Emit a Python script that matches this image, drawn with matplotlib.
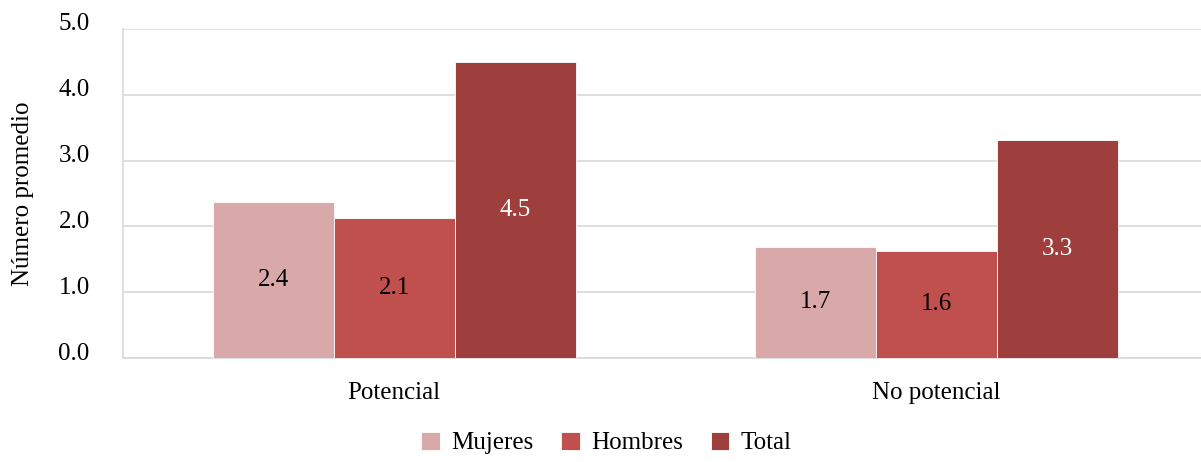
import matplotlib
matplotlib.use("Agg")
import matplotlib.pyplot as plt
import matplotlib.transforms as mtransforms
import numpy as np

plt.rcParams['font.family'] = ['Liberation Serif', 'DejaVu Serif']

categories = ["Potencial", "No potencial"]
series_names = ["Mujeres", "Hombres", "Total"]
mujeres = [2.37, 1.69]
hombres = [2.13, 1.63]
total = [4.50, 3.31]
labels_m = ["2.4", "1.7"]
labels_h = ["2.1", "1.6"]
labels_t = ["4.5", "3.3"]
colors = ["#D9A9A9", "#C0504D", "#9E3F3E"]
label_colors = ["#000000", "#000000", "#FFFFFF"]

FS = 18

fig = plt.figure(figsize=(12.01, 4.62), dpi=100)
ax = fig.add_axes([123/1201, 1-358/462, (1208-123)/1201, (358-29)/462])

x = np.arange(len(categories))
w = 0.223
vals = [mujeres, hombres, total]
labs = [labels_m, labels_h, labels_t]
for i, (v, c, lc, lb, name) in enumerate(zip(vals, colors, label_colors, labs, series_names)):
    bars = ax.bar(x + (i-1)*w, v, width=w, color=c, edgecolor="white", linewidth=0.6, label=name, zorder=3)
    for b, t in zip(bars, lb):
        ax.text(b.get_x()+b.get_width()/2, b.get_height()/2, t, ha="center", va="center",
                color=lc, fontsize=FS, zorder=4)

ax.set_xlim(-0.5, 1.5)
ax.set_ylim(0, 5.0)
ax.set_yticks(np.arange(0, 5.01, 1.0))
ax.set_yticklabels([f"{t:.1f}" for t in np.arange(0, 5.01, 1.0)], fontsize=FS)
ax.set_xticks(x)
ax.set_xticklabels(categories, fontsize=FS)
ax.tick_params(axis="both", length=0)
ax.tick_params(axis="y", pad=24)
ax.tick_params(axis="x", pad=17)
offset = mtransforms.ScaledTranslation(0, 7/100, fig.dpi_scale_trans)
for lab in ax.get_yticklabels():
    lab.set_transform(lab.get_transform() + offset)
ax.yaxis.grid(True, color="#D9D9D9", linewidth=1.2, zorder=0)
ax.set_axisbelow(True)
for s in ["top", "right"]:
    ax.spines[s].set_visible(False)
ax.spines["left"].set_color("#D9D9D9")
ax.spines["left"].set_linewidth(1.2)
ax.spines["bottom"].set_color("#D9D9D9")
ax.spines["bottom"].set_linewidth(1.2)
ax.set_ylabel("Número promedio", fontsize=FS)
ax.yaxis.set_label_coords((34-123)/1085, 0.5)

leg = fig.legend(loc="center", bbox_to_anchor=(0.505, 1-443/462), ncol=3, frameon=False,
                 fontsize=FS, handlelength=0.75, handleheight=0.75, handletextpad=0.45,
                 columnspacing=1.1)

fig.savefig("out.png", dpi=100)
